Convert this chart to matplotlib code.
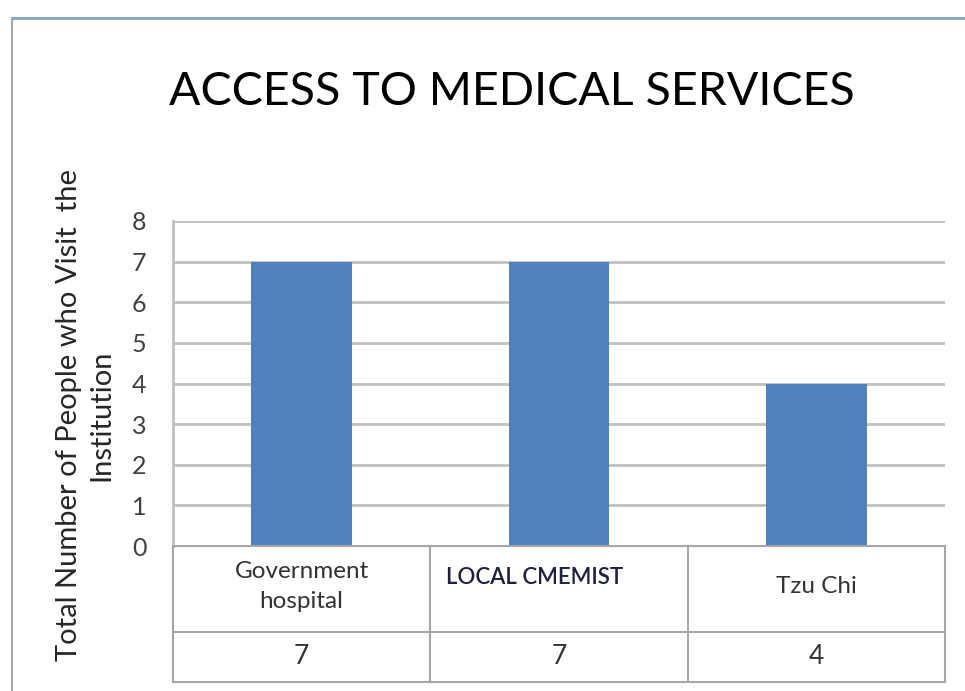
import numpy as np
import matplotlib
matplotlib.use("Agg")
import matplotlib.pyplot as plt
from matplotlib.lines import Line2D

categories = ["Government\nhospital", "LOCAL CMEMIST", "Tzu Chi"]
values = [7, 7, 4]
yticks = [0, 1, 2, 3, 4, 5, 6, 7, 8]

BLUE = "#4F81BD"
GRID = "#BFBFBF"
FONT = ["Lato", "DejaVu Sans"]

fig = plt.figure(figsize=(9.65, 6.91), dpi=100)

# window frame remnants
fig.add_artist(Line2D([12 / 965, 1], [1 - 18 / 691] * 2, color="#8EA4C2", lw=2.2))
fig.add_artist(Line2D([12 / 965] * 2, [0, 1 - 18 / 691], color="#A8A8A8", lw=1.5))

ax = fig.add_axes([173 / 965, 1 - 546 / 691, 772 / 965, 325 / 691])
x = np.arange(len(values))
ax.bar(x, values, width=0.39, color=BLUE, zorder=3)
ax.set_xlim(-0.5, len(values) - 0.5)
ax.set_ylim(0, 8)
ax.set_yticks(yticks)
ax.set_yticklabels([str(t) for t in yticks], fontsize=18, family=FONT, color="#404040")
ax.set_xticks([])
ax.tick_params(axis="y", length=0, pad=19)
ax.grid(axis="y", color=GRID, lw=2, zorder=0)
for s in ["top", "right", "bottom"]:
    ax.spines[s].set_visible(False)
ax.spines["left"].set_color(GRID)
ax.spines["left"].set_linewidth(2)

ax.set_ylabel("Total Number of People who Visit  the\nInstitution", fontsize=21,
              family=FONT, linespacing=1.3, color="#262626")
ax.yaxis.set_label_coords(-0.076, 0.403)

fig.text(512 / 965, 1 - 92 / 691, "ACCESS TO MEDICAL SERVICES", ha="center", va="center",
         fontsize=33.5, family=FONT)

# data table under the chart
tx = fig.add_axes([173 / 965, 1 - 682 / 691, 772 / 965, 136 / 691])
tx.set_xlim(0, 3)
tx.set_ylim(0, 1)
tx.axis("off")
split = 50 / 136
tc = "#A6A6A6"
for xv in range(4):
    tx.plot([xv, xv], [0, 1], color=tc, lw=1.5, clip_on=False)
for yv in [0, split, 1]:
    tx.plot([0, 3], [yv, yv], color=tc, lw=1.5, clip_on=False)
for i, (c, v) in enumerate(zip(categories, values)):
    if c.startswith("LOCAL"):
        tx.text(i + 0.407, 0.772, c, ha="center", va="center", fontsize=16,
                family=FONT, color="#1F1F3F", fontweight="semibold")
    else:
        tx.text(i + 0.5, (1 + split) / 2 + 0.02, c, ha="center", va="center", fontsize=17.5,
                family=FONT, color="#333333", linespacing=1.55)
    tx.text(i + 0.5, split / 2, str(v), ha="center", va="center", fontsize=19,
            family=FONT, color="#333333")

fig.savefig("out.png", dpi=100)
